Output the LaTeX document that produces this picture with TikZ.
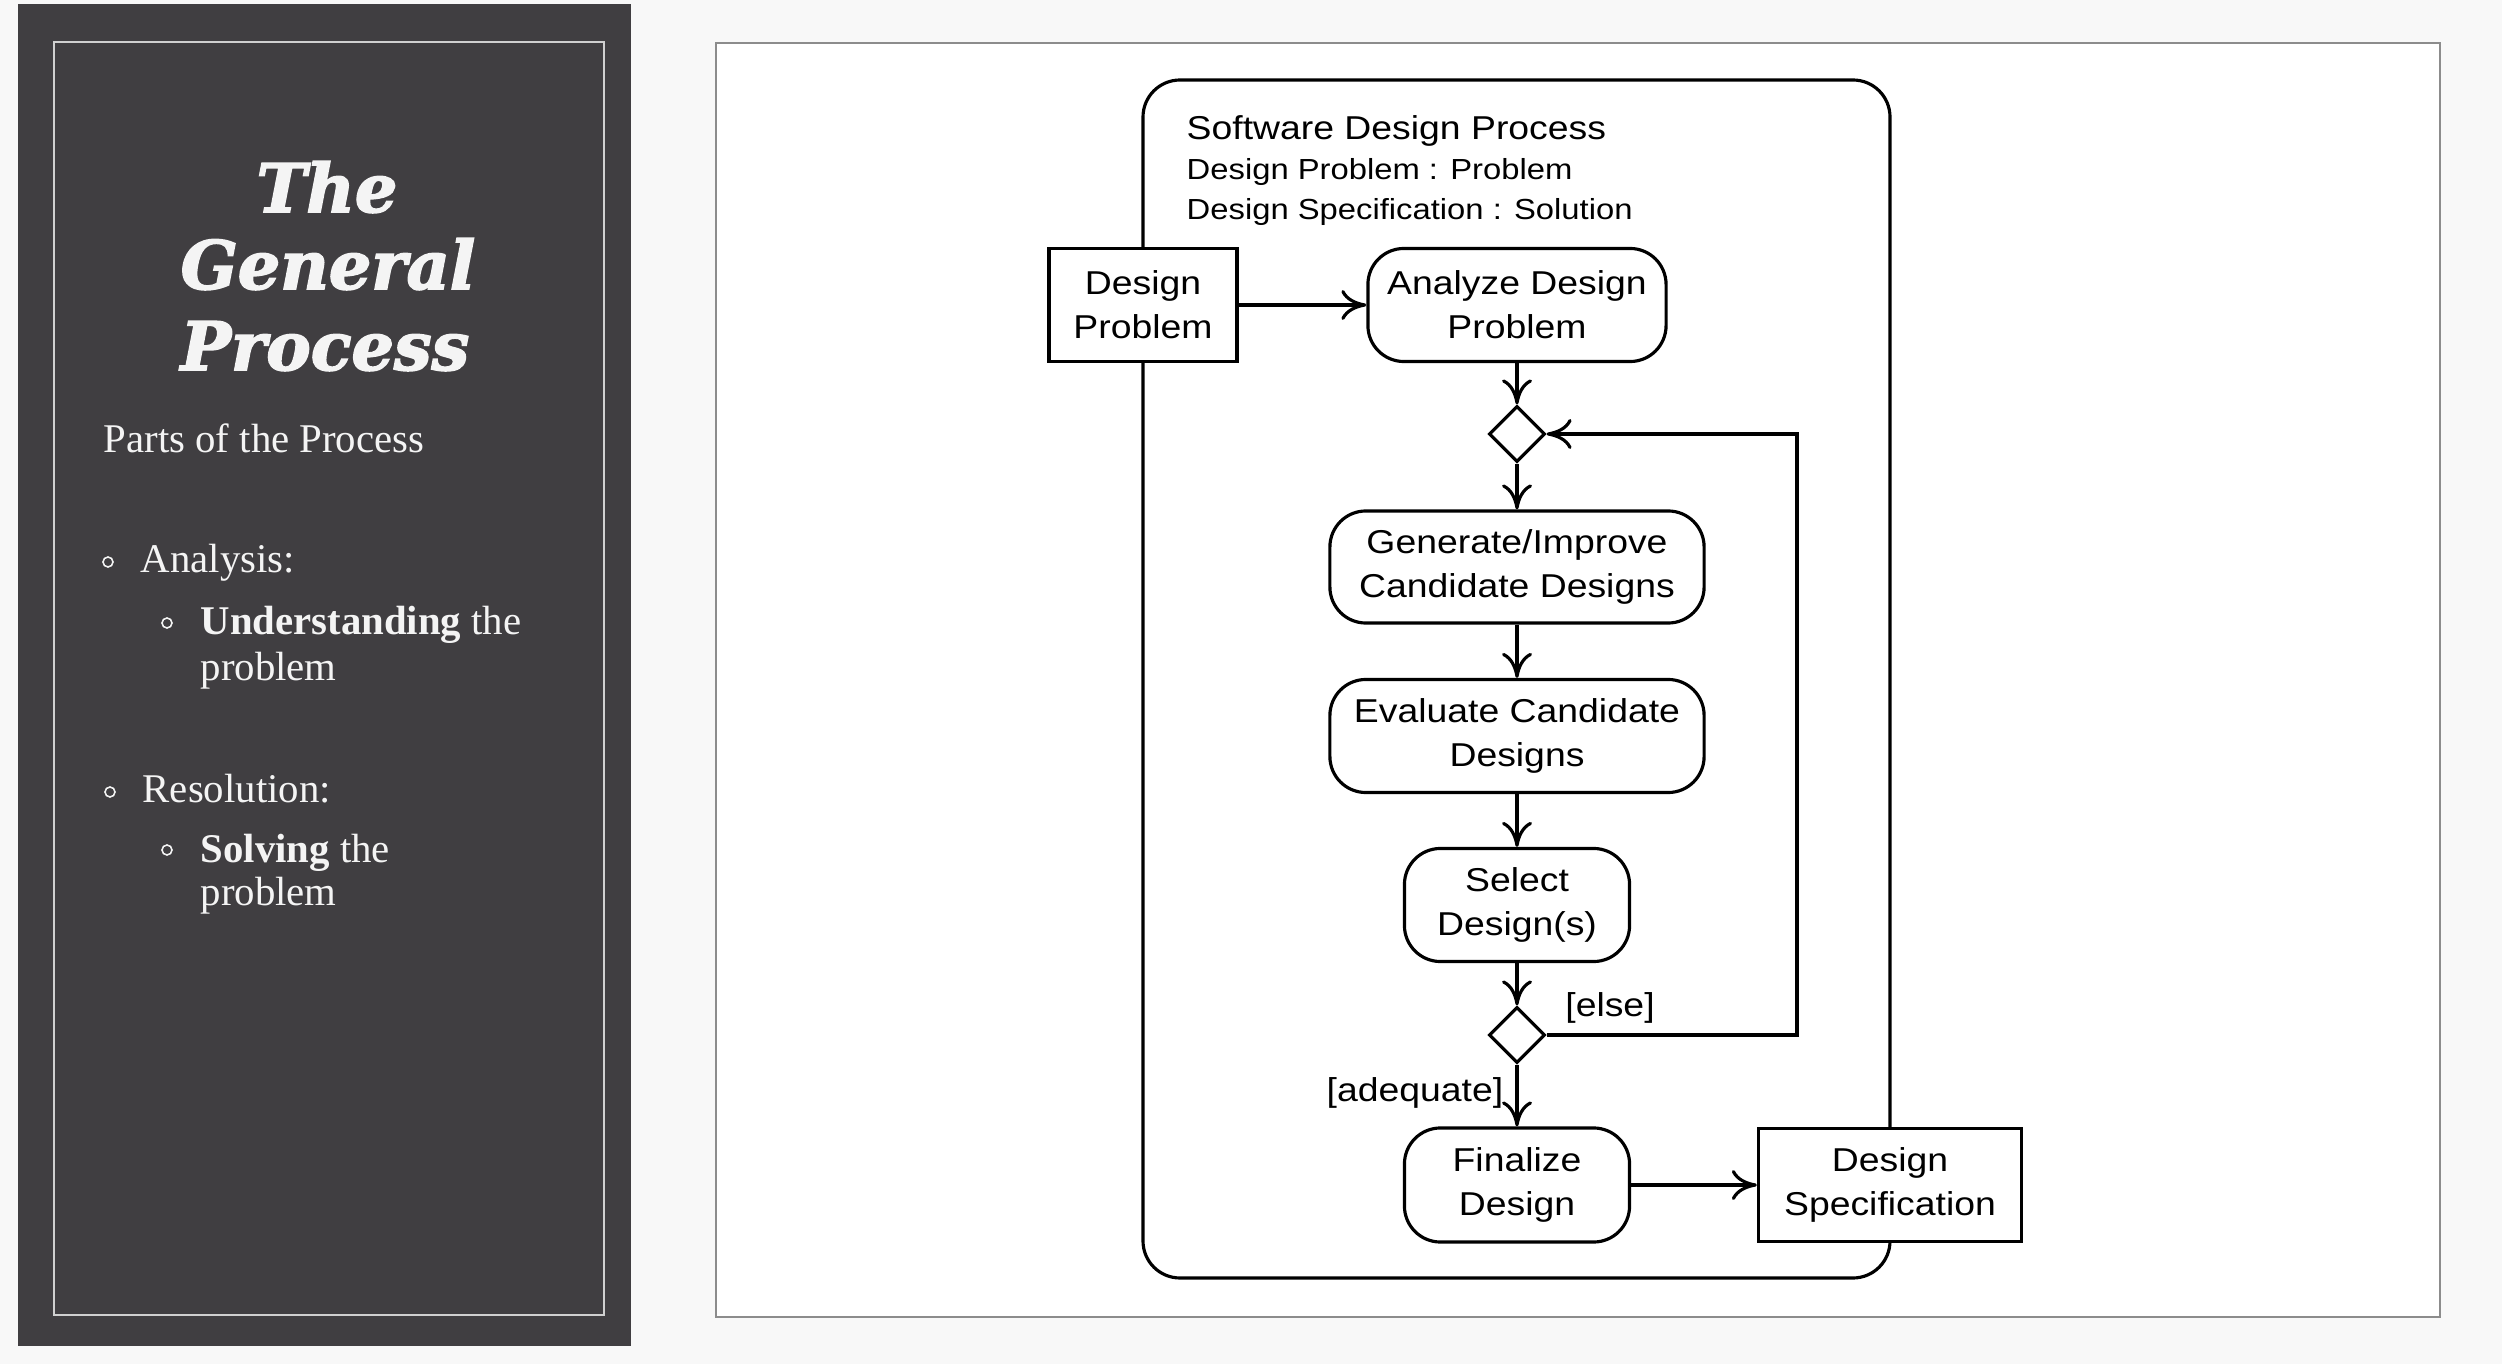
\documentclass[tikz,border=0pt]{standalone}
\usepackage{fontspec}
\setmainfont{Liberation Serif}
\newfontfamily\diagfont[FakeStretch=1.13]{Liberation Sans}
\newfontfamily\headfont[BoldItalicFeatures={FakeBold=2.5}]{DejaVu Serif}
\usetikzlibrary{shapes.geometric,arrows.meta}
\definecolor{slate}{HTML}{403E41}
\definecolor{paper}{HTML}{F8F8F8}
\definecolor{rim}{HTML}{8C8C8C}
\definecolor{chalk}{HTML}{F4F4F4}
\begin{document}
\begin{tikzpicture}[x=0.01cm,y=-0.01cm,
  >={Computer Modern Rightarrow[length=0.25cm,width=0.3cm]},
  flow/.style={line width=0.9pt,->},
  action/.style={draw,line width=0.9pt,rounded corners=0.36cm,fill=white,align=center,inner sep=0pt,
    font=\diagfont\fontsize{9.4}{12.5}\selectfont},
  pin/.style={draw,line width=0.9pt,fill=white,align=center,inner sep=0pt,
    font=\diagfont\fontsize{9.4}{12.5}\selectfont},
  choice/.style={draw,line width=0.9pt,diamond,aspect=1,fill=white,minimum width=0.56cm,minimum height=0.56cm,inner sep=0pt},
  guard/.style={inner sep=0pt,font=\diagfont\fontsize{9.4}{11}\selectfont},
  heading/.style={anchor=base,inner sep=0pt,text=chalk,font=\headfont\bfseries\itshape\fontsize{19}{22}\selectfont},
  side/.style={anchor=base west,inner sep=0pt,text=chalk,font=\fontsize{11.6}{14}\selectfont},
  dot/.style={draw=chalk,circle,line width=0.45pt,minimum size=0.1cm,inner sep=0pt}]

\useasboundingbox (0,0) rectangle (2502,1364);
\fill[paper] (0,0) rectangle (2502,1364);

\fill[slate] (18,4) rectangle (631,1346);
\draw[chalk!80!slate, line width=0.45pt] (54,42) rectangle (604,1315);

\node[heading] (headA) at (327,212) {The};
\node[heading] (headB) at (328,289) {General};
\node[heading] (headC) at (325,370) {Process};

\node[side] (parts) at (103,453) {Parts of the Process};
\node[dot] (dotA) at (108,562) {};
\node[side] (analysis) at (140,573) {Analysis:};
\node[dot] (dotB) at (167,623) {};
\node[side] (underst) at (200,635) {\textbf{Understanding} the};
\node[side] (problemA) at (200,680) {problem};
\node[dot] (dotC) at (110,792) {};
\node[side] (resol) at (142,802) {Resolution:};
\node[dot] (dotD) at (167,850) {};
\node[side] (solving) at (200,862) {\textbf{Solving} the};
\node[side] (problemB) at (200,905) {problem};

\draw[rim, fill=white, line width=0.55pt] (716,43) rectangle (2440,1317);

\draw[line width=0.9pt, rounded corners=0.37cm] (1143,80) rectangle (1890,1278);

\node[anchor=base west, inner sep=0pt, font=\diagfont\fontsize{9.4}{11}\selectfont] (sdp) at (1186,140) {Software Design Process};
\node[anchor=base west, inner sep=0pt, font=\diagfont\fontsize{8.25}{11}\selectfont] (sdpin) at (1186,180) {Design Problem : Problem};
\node[anchor=base west, inner sep=0pt, font=\diagfont\fontsize{8.25}{11}\selectfont] (sdpout) at (1186,220) {Design Specification : Solution};

\node[pin, minimum width=1.88cm, minimum height=1.13cm] (dp) at (1143,305) {Design\\Problem};
\node[action, minimum width=2.98cm, minimum height=1.13cm] (analyze) at (1517,305) {Analyze Design\\Problem};
\node[choice] (merge) at (1517,434) {};
\node[action, minimum width=3.74cm, minimum height=1.12cm] (generate) at (1517,567) {Generate/Improve\\Candidate Designs};
\node[action, minimum width=3.74cm, minimum height=1.13cm] (evaluate) at (1517,736) {Evaluate Candidate\\Designs};
\node[action, minimum width=2.25cm, minimum height=1.13cm] (select) at (1517,905) {Select\\Design(s)};
\node[choice] (decide) at (1517,1035) {};
\node[action, minimum width=2.25cm, minimum height=1.14cm] (finalize) at (1517,1185) {Finalize\\Design};
\node[pin, minimum width=2.63cm, minimum height=1.13cm] (spec) at (1890,1185) {Design\\Specification};
\coordinate (loop) at (1797,1035);

\draw[flow] (dp) -- (analyze);
\draw[flow] (analyze) -- (merge);
\draw[flow] (merge) -- (generate);
\draw[flow] (generate) -- (evaluate);
\draw[flow] (evaluate) -- (select);
\draw[flow] (select) -- (decide);
\draw[flow] (decide) -- (finalize);
\draw[flow] (decide.east) -- (loop) |- (merge.east);
\draw[flow] (finalize) -- (spec);

\node[guard] (elseg) at (1610,1008) {[else]};
\node[guard] (adeq) at (1415,1093) {[adequate]};
\end{tikzpicture}
\end{document}
